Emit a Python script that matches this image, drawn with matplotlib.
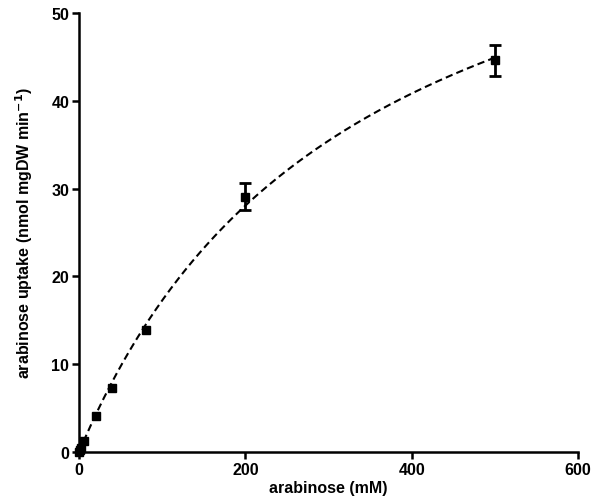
import numpy as np
import matplotlib
matplotlib.use("Agg")
import matplotlib.pyplot as plt

plt.rcParams['font.family'] = ['Liberation Sans', 'DejaVu Sans']
plt.rcParams['font.weight'] = 'bold'
plt.rcParams['mathtext.default'] = 'bf'

# data
conc = [0, 1, 2, 6, 20, 40, 80, 200, 500]
uptake = [0.05, 0.2, 0.4, 1.3, 4.1, 7.3, 13.9, 29.1, 44.6]
err = [0, 0, 0, 0, 0, 0, 0, 1.5, 1.8]

x = np.array(conc, float)
y = np.array(uptake, float)

# Michaelis-Menten fit (grid search on Km, linear solve for Vmax)
best = None
for km in np.linspace(50, 1000, 9501):
    f = x / (km + x)
    v = np.dot(f, y) / np.dot(f, f)
    sse = np.sum((y - v * f) ** 2)
    if best is None or sse < best[0]:
        best = (sse, km, v)
_, Km, Vmax = best
xf = np.linspace(0, 500, 400)
yf = Vmax * xf / (Km + xf)

fig = plt.figure(figsize=(5.95, 5.02), dpi=100)
ax = fig.add_axes([0.1328, 0.0976, 0.8387, 0.8745])
ax.plot(xf, yf, color='black', lw=1.5, ls=(0, (3.5, 2)))
ax.plot(x, y, 's', color='black', ms=6, clip_on=False, zorder=3)
eb_x = [xi for xi, e in zip(conc, err) if e > 0]
eb_y = [yi for yi, e in zip(uptake, err) if e > 0]
eb_e = [e for e in err if e > 0]
ax.errorbar(eb_x, eb_y, yerr=eb_e, fmt='none', ecolor='black', capsize=4,
            capthick=2, elinewidth=2, zorder=3)

ax.set_xlim(0, 600)
ax.set_ylim(0, 50)
ax.set_xticks([0, 200, 400, 600])
ax.set_yticks([0, 10, 20, 30, 40, 50])
for s in ['top', 'right']:
    ax.spines[s].set_visible(False)
for s in ['left', 'bottom']:
    ax.spines[s].set_linewidth(1.8)
ax.tick_params(direction='out', length=5, width=1.8, labelsize=11.5, pad=2)
for lab in ax.get_xticklabels() + ax.get_yticklabels():
    lab.set_fontweight('bold')
ax.set_xlabel('arabinose (mM)', fontsize=11.5, fontweight='bold', labelpad=2)
ax.set_ylabel('arabinose uptake (nmol mgDW min$^{\\mathbf{-1}}$)', fontsize=11.5,
              fontweight='bold', labelpad=12)

fig.savefig('out.png', dpi=100)
